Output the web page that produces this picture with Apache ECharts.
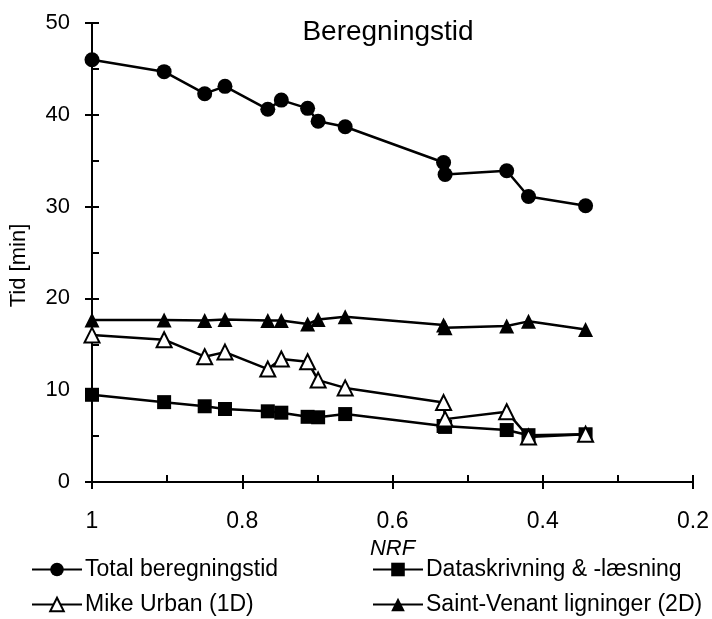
<!DOCTYPE html>
<html>
<head>
<meta charset="utf-8">
<script src="https://cdn.jsdelivr.net/npm/echarts@6/dist/echarts.min.js"></script>
<style>
html,body{margin:0;padding:0;background:#fff;}
#chart{width:712px;height:619px;}
</style>
</head>
<body>
<div id="chart"></div>
<script>
const titleText = 'Beregningstid';
const xName = 'NRF';
const yName = 'Tid [min]';
const seriesNames = ['Total beregningstid', 'Dataskrivning & -læsning', 'Mike Urban (1D)', 'Saint-Venant ligninger (2D)'];
const nrf = [1.0, 0.904, 0.850, 0.823, 0.766, 0.748, 0.713, 0.699, 0.663, 0.532, 0.530, 0.448, 0.419, 0.343];
const total = [46.0, 44.7, 42.3, 43.1, 40.6, 41.6, 40.7, 39.3, 38.7, 34.8, 33.5, 33.9, 31.1, 30.1];
const dataIO = [9.5, 8.7, 8.25, 7.95, 7.7, 7.55, 7.1, 7.05, 7.4, 6.1, 6.0, 5.66, 5.1, 5.2];
const mikeUrban = [16.0, 15.5, 13.65, 14.15, 12.3, 13.4, 13.1, 11.1, 10.25, 8.65, 6.85, 7.66, 4.9, 5.2];
const saintVenant = [17.65, 17.65, 17.6, 17.7, 17.6, 17.6, 17.2, 17.7, 18.0, 17.1, 16.8, 17.0, 17.5, 16.6];

const pairs = ys => nrf.map((x, i) => [x, ys[i]]);
const font = 'Liberation Sans, Arial, sans-serif';
const black = '#000';

const chart = echarts.init(document.getElementById('chart'), null, {renderer: 'canvas'});

function mkSeries(name, ys, symbol, size, fill) {
  return {
    name: name, type: 'line', data: pairs(ys),
    xAxisIndex: 0, yAxisIndex: 0,
    symbol: symbol, symbolSize: size, showAllSymbol: true,
    lineStyle: {color: black, width: 2.5},
    itemStyle: {color: fill, borderColor: black, borderWidth: fill === '#fff' ? 2 : 0},
    emphasis: {disabled: true},
    animation: false
  };
}

function mkLegend(name, left, top) {
  return {
    orient: 'horizontal', left: left, top: top,
    itemWidth: 50, itemHeight: 17, itemGap: 0,
    data: [name],
    textStyle: {color: black, fontFamily: font, fontSize: 23, padding: [0, 0, 0, -2]}
  };
}

const axisLabelStyle = {color: black, fontFamily: font, fontSize: 22};

const option = {
  backgroundColor: '#fff',
  animation: false,
  title: {
    text: titleText, left: 383, top: 13, textAlign: 'center',
    textStyle: {color: black, fontFamily: font, fontSize: 28, fontWeight: 'normal'}
  },
  grid: {left: 90, right: 16, top: 23, bottom: 137, containLabel: false},
  legend: [
    mkLegend(seriesNames[0], 26, 553),
    mkLegend(seriesNames[2], 26, 588),
    mkLegend(seriesNames[1], 367, 553),
    mkLegend(seriesNames[3], 367, 588)
  ],
  xAxis: [
    {
      type: 'value', inverse: true, min: 0.2, max: 1, interval: 0.2,
      position: 'bottom',
      name: xName, nameLocation: 'middle', nameGap: 46,
      nameTextStyle: {color: black, fontFamily: font, fontSize: 22, fontStyle: 'italic'},
      axisLine: {show: true, onZero: false, lineStyle: {color: black, width: 2}},
      axisTick: {show: true, inside: true, length: 7, lineStyle: {color: black, width: 2}},
      minorTick: {show: true, splitNumber: 2, length: 7, lineStyle: {color: black, width: 2}},
      axisLabel: Object.assign({margin: 28}, axisLabelStyle, {fontSize: 23}),
      splitLine: {show: false}
    },
    {
      type: 'value', inverse: true, min: 0.2, max: 1, interval: 0.2,
      position: 'bottom', offset: 0,
      axisLine: {show: false},
      axisTick: {show: true, inside: false, length: 7, lineStyle: {color: black, width: 2}},
      axisLabel: {show: false},
      splitLine: {show: false}
    }
  ],
  yAxis: [
    {
      type: 'value', min: 0, max: 50, interval: 10,
      position: 'left',
      name: yName, nameLocation: 'middle', nameGap: 62, nameRotate: 90,
      nameTextStyle: {color: black, fontFamily: font, fontSize: 22, padding: [0, 0, 0, -26]},
      axisLine: {show: true, onZero: false, lineStyle: {color: black, width: 2}},
      axisTick: {show: true, inside: true, length: 7, lineStyle: {color: black, width: 2}},
      minorTick: {show: true, splitNumber: 2, length: 7, lineStyle: {color: black, width: 2}},
      axisLabel: Object.assign({margin: 22}, axisLabelStyle),
      splitLine: {show: false}
    },
    {
      type: 'value', min: 0, max: 50, interval: 10,
      position: 'left', offset: 0,
      axisLine: {show: false},
      axisTick: {show: true, inside: false, length: 7, lineStyle: {color: black, width: 2}},
      axisLabel: {show: false},
      splitLine: {show: false}
    }
  ],
  series: [
    mkSeries(seriesNames[0], total, 'circle', 15, black),
    mkSeries(seriesNames[1], dataIO, 'rect', 14, black),
    mkSeries(seriesNames[2], mikeUrban, 'triangle', 15, '#fff'),
    mkSeries(seriesNames[3], saintVenant, 'triangle', 15, black)
  ]
};
chart.setOption(option);
</script>
</body>
</html>
